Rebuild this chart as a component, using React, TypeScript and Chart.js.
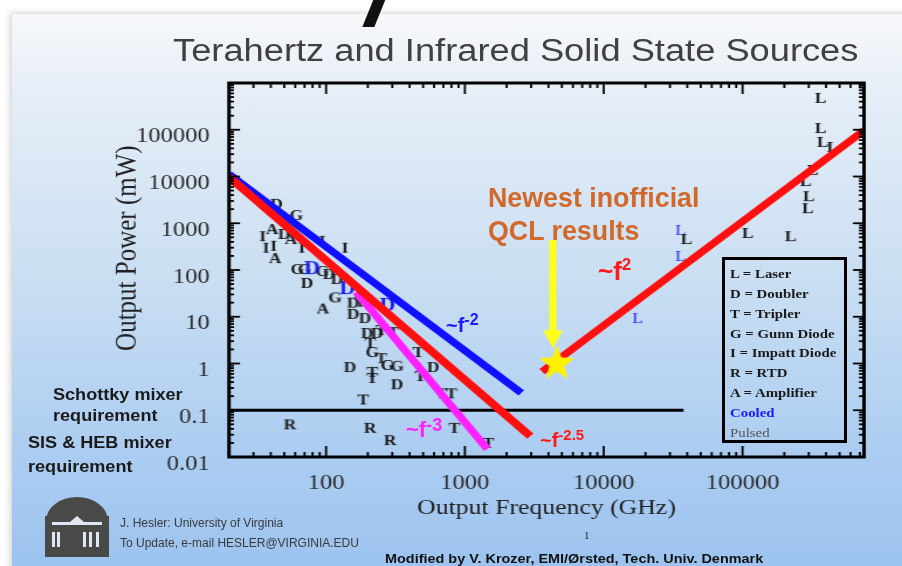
import React, { useEffect, useRef } from "react";
import { Chart, registerables } from "chart.js";

Chart.register(...registerables);

// The original slide is stretched horizontally; the canvas is drawn narrower and stretched back.
const CANVAS_W = 771;
const CANVAS_H = 566;
const STRETCH = 902 / CANVAS_W;

// Axis ranges and tick labels
const xMin = 20;
const xMax = 750000;
const yMin = 0.01;
const yMax = 1000000;
const xTickValues = [100, 1000, 10000, 100000];
const yTickValues = [0.01, 0.1, 1, 10, 100, 1000, 10000, 100000];

// Trend lines: [frequency GHz, power mW]
const trendMinus2 = [[20, 11300], [2550, 0.234]];
const trendMinus25 = [[20, 9750], [2960, 0.0281]];
const trendMinus3 = [[165, 33.8], [1450, 0.0148]];
const trendPlus2 = [[3600, 0.668], [750000, 96400]];
const mixerRequirement = [[20, 0.1], [37600, 0.1]];

// QCL annotation
const qclStar = [[4600, 1.08]];
const qclArrowShaft = [[4300, 439], [4300, 4.72]];
const qclArrowHead = [[4300, 3.34]];

// Device points: [frequency GHz, power mW]
const laserPts = [[365000, 480000], [365000, 109000], [378000, 55000], [446000, 43000], [320000, 13800], [285000, 8000], [300000, 3800], [295000, 2100], [109000, 620], [222000, 530], [39500, 460]];
const laserCooledPts = [[35700, 720], [35700, 200], [17500, 9.4]];
const doublerPts = [[44, 2600], [50, 590], [73, 53], [105, 82], [120, 64], [157, 20], [157, 11.5], [191, 9.4], [198, 4.5], [233, 4.5], [149, 0.84], [592, 0.84], [325, 0.36]];
const doublerCooledPts = [[79, 110], [142, 41], [276, 18]];
const triplerPts = [[176, 21], [250, 5.2], [305, 4.7], [208, 2.75], [250, 1.3], [215, 0.66], [215, 0.49], [461, 1.76], [477, 0.54], [185, 0.17], [800, 0.23], [680, 0.23], [840, 0.042], [1475, 0.02]];
const gunnPts = [[61, 1500], [62, 105], [70, 105], [94, 95], [116, 26], [215, 1.76], [276, 0.93], [325, 0.89]];
const impattPts = [[35, 530], [37, 300], [42, 330], [67, 300], [94, 420], [137, 300]];
const rtdPts = [[55, 0.05], [208, 0.042], [290, 0.023]];
const amplifierPts = [[41, 750], [56, 460], [43, 180], [95, 15]];

const legendLines = ["L = Laser", "D = Doubler", "T = Tripler", "G = Gunn Diode", "I = Impatt Diode", "R = RTD", "A = Amplifier"];

const SERIF = '"Liberation Serif", "Times New Roman", Times, serif';
const SANS = '"Liberation Sans", Arial, Helvetica, sans-serif';

const toXY = (pts: number[][]) => pts.map(([x, y]) => ({ x, y }));

function glyph(ch: string, color: string, size: number, weight: string) {
  const c = document.createElement("canvas");
  let ctx = c.getContext("2d")!;
  const font = `${weight} ${size}px ${SERIF}`;
  ctx.font = font;
  const w = Math.ceil(ctx.measureText(ch).width) + 2;
  const h = Math.ceil(size * 0.9) + 2;
  c.width = w;
  c.height = h;
  ctx = c.getContext("2d")!;
  ctx.font = font;
  ctx.fillStyle = color;
  ctx.textAlign = "center";
  ctx.textBaseline = "alphabetic";
  ctx.fillText(ch, w / 2, h / 2 + size * 0.33);
  return c;
}

function starGlyph(color: string, r: number) {
  const c = document.createElement("canvas");
  const w = Math.ceil((2 * r) / STRETCH) + 2;
  const h = Math.ceil(2 * r) + 2;
  c.width = w;
  c.height = h;
  const ctx = c.getContext("2d")!;
  ctx.translate(w / 2, h / 2 + r * 0.1);
  ctx.scale(1 / STRETCH, 1);
  ctx.beginPath();
  for (let i = 0; i < 10; i++) {
    const rad = i % 2 === 0 ? r : r * 0.42;
    const a = -Math.PI / 2 + (i * Math.PI) / 5;
    ctx.lineTo(rad * Math.cos(a), rad * Math.sin(a));
  }
  ctx.closePath();
  ctx.fillStyle = color;
  ctx.fill();
  return c;
}

function arrowHeadGlyph(color: string) {
  const c = document.createElement("canvas");
  c.width = 18;
  c.height = 19;
  const ctx = c.getContext("2d")!;
  ctx.fillStyle = color;
  ctx.beginPath();
  ctx.moveTo(0.5, 0.5);
  ctx.lineTo(17.5, 0.5);
  ctx.lineTo(9, 18.5);
  ctx.closePath();
  ctx.fill();
  return c;
}

const framePlugin = {
  id: "frameTicks",
  afterDraw(chart: any) {
    const { ctx, chartArea } = chart;
    const { left, right, top, bottom } = chartArea;
    const xs = chart.scales.x;
    const ys = chart.scales.y;
    ctx.save();
    ctx.strokeStyle = "#000";
    ctx.lineWidth = 1.8;
    const seg = (x1: number, y1: number, x2: number, y2: number) => {
      ctx.beginPath();
      ctx.moveTo(x1, y1);
      ctx.lineTo(x2, y2);
      ctx.stroke();
    };
    for (let e = -2; e <= 6; e++) {
      for (let m = 1; m <= 9; m++) {
        const v = m * Math.pow(10, e);
        if (v < yMin * 0.999 || v > yMax * 1.001) continue;
        const py = ys.getPixelForValue(v);
        const len = (m === 1 ? 11 : 5) / STRETCH;
        seg(left, py, left + len, py);
        seg(right, py, right - len, py);
      }
    }
    for (let e = 1; e <= 5; e++) {
      for (let m = 1; m <= 9; m++) {
        const v = m * Math.pow(10, e);
        if (v < xMin * 0.999 || v > xMax * 1.001) continue;
        const px = xs.getPixelForValue(v);
        const len = m === 1 ? 11 : 5;
        seg(px, bottom, px, bottom - len);
        seg(px, top, px, top + len);
      }
    }
    ctx.lineWidth = 3;
    ctx.strokeRect(left, top, right - left, bottom - top);
    ctx.restore();
  },
};

type TP = {
  x: number;
  y: number;
  size: number;
  color?: string;
  weight?: string | number;
  family?: string;
  sx?: number;
  children: React.ReactNode;
};

function Txt({ x, y, size, color = "#222", weight = "normal", family = SANS, sx = 1, children }: TP) {
  return (
    <div
      style={{
        position: "absolute",
        left: x,
        top: y - size / 2,
        fontSize: size,
        lineHeight: `${size}px`,
        fontFamily: family,
        fontWeight: weight as any,
        color,
        whiteSpace: "nowrap",
        transform: sx !== 1 ? `scaleX(${sx})` : undefined,
        transformOrigin: "0 50%",
      }}
    >
      {children}
    </div>
  );
}

const sup = (t: string, size: number, raise: number) => (
  <span style={{ fontSize: size, position: "relative", top: -raise }}>{t}</span>
);

export default function App() {
  const ref = useRef<HTMLCanvasElement | null>(null);

  useEffect(() => {
    if (!ref.current) return;
    const black = "#1a1a1a";
    const blue = "#1c1cf0";
    const line = (pts: number[][], color: string, width: number) => ({
      data: toXY(pts),
      showLine: true,
      borderColor: color,
      backgroundColor: color,
      borderWidth: width,
      pointRadius: 0,
      fill: false,
      tension: 0,
    });
    const marks = (pts: number[][], style: any) => ({
      data: toXY(pts),
      showLine: false,
      pointStyle: style,
      pointRadius: 6,
      pointHoverRadius: 6,
    });

    const datasets: any[] = [
      marks(qclStar, starGlyph("#fff200", 18.5)),
      marks(qclArrowHead, arrowHeadGlyph("#ffff1a")),
      line(qclArrowShaft, "#ffff1a", 6),
      line(trendPlus2, "#ff1010", 7),
      line(trendMinus25, "#ff1010", 7.5),
      line(trendMinus3, "#ff22ff", 7),
      line(trendMinus2, "#1010ff", 7),
      line(mixerRequirement, "#000", 3),
      marks(laserPts, glyph("L", black, 15, "bold")),
      marks(laserCooledPts, glyph("L", blue, 15, "normal")),
      marks(doublerPts, glyph("D", black, 15, "bold")),
      marks(doublerCooledPts, glyph("D", blue, 19, "bold")),
      marks(triplerPts, glyph("T", black, 15, "bold")),
      marks(gunnPts, glyph("G", black, 15, "bold")),
      marks(impattPts, glyph("I", black, 15, "bold")),
      marks(rtdPts, glyph("R", black, 15, "bold")),
      marks(amplifierPts, glyph("A", black, 15, "bold")),
    ];

    const tickFont = { family: SERIF, size: 21 };

    const chart = new Chart(ref.current, {
      type: "scatter",
      data: { datasets },
      options: {
        animation: false,
        responsive: true,
        maintainAspectRatio: false,
        events: [],
        layout: {
          padding: { left: 90, top: 83, right: CANVAS_W - 864 / STRETCH, bottom: 40 },
        },
        plugins: {
          legend: { display: false },
          tooltip: { enabled: false },
          title: { display: false },
        },
        scales: {
          x: {
            type: "logarithmic",
            min: xMin,
            max: xMax,
            grid: { display: false },
            border: { display: false },
            afterBuildTicks: (s: any) => {
              s.ticks = xTickValues.map((v) => ({ value: v }));
            },
            afterFit: (s: any) => {
              s.height = 69;
            },
            ticks: {
              autoSkip: false,
              maxRotation: 0,
              padding: 5.5,
              color: "#2b2b2b",
              font: tickFont,
              callback: (v: any) => String(v),
            },
            title: {
              display: true,
              text: "Output Frequency (GHz)",
              color: "#222",
              font: { family: SERIF, size: 22 },
              padding: { top: 0, bottom: 4.8 },
            },
          },
          y: {
            type: "logarithmic",
            min: yMin,
            max: yMax,
            grid: { display: false },
            border: { display: false },
            afterBuildTicks: (s: any) => {
              s.ticks = yTickValues.map((v) => ({ value: v }));
            },
            afterFit: (s: any) => {
              s.width = 229 / STRETCH - 90;
            },
            ticks: {
              autoSkip: false,
              padding: 229 / STRETCH - 219 / STRETCH,
              labelOffset: 7,
              color: "#2b2b2b",
              font: tickFont,
              callback: (v: any) => String(v),
            },
            title: {
              display: true,
              text: "\u00A0\u00A0\u00A0\u00A0\u00A0\u00A0\u00A0Output Power (mW)",
              color: "#222",
              font: { family: SERIF, size: 25 },
              padding: { top: 4, bottom: 0 },
            },
          },
        },
      } as any,
      plugins: [framePlugin],
    });
    return () => chart.destroy();
  }, []);

  const logo = "#494947";

  return (
    <div style={{ position: "fixed", left: 0, top: 0, width: 902, height: 566, overflow: "hidden", background: "#fff" }}>
      {/* slide background */}
      <div
        style={{
          position: "absolute",
          left: 12,
          top: 14,
          width: 900,
          height: 560,
          background: "linear-gradient(180deg, #f7f8fa 0%, #e6eef7 14%, #c9def2 48%, #accdf1 78%, #9bc3ef 100%)",
          boxShadow: "-2px -1px 6px rgba(0,0,0,0.18)",
        }}
      />
      <div
        style={{ position: "absolute", left: 369, top: -6, width: 12, height: 33, background: "#111", transform: "skewX(-22deg)" }}
      />

      {/* chart canvas, stretched like the original slide */}
      <div
        style={{
          position: "absolute",
          left: 0,
          top: 0,
          width: CANVAS_W,
          height: CANVAS_H,
          transform: `scaleX(${STRETCH})`,
          transformOrigin: "0 0",
        }}
      >
        <canvas ref={ref} />
      </div>

      {/* title */}
      <Txt x={173} y={50} size={31} color="#404040" sx={STRETCH}>
        Terahertz and Infrared Solid State Sources
      </Txt>

      {/* annotations */}
      <Txt x={488} y={198} size={26.8} weight="bold" color="#d2692a">Newest inofficial</Txt>
      <Txt x={488} y={231} size={26.8} weight="bold" color="#d2692a">QCL results</Txt>
      <Txt x={598} y={271} size={26} weight="bold" color="#ff1a1a">~f{sup("2", 17, 10)}</Txt>
      <Txt x={446} y={325} size={20} weight="bold" color="#1a1aff">~f{sup("-2", 16, 7)}</Txt>
      <Txt x={406} y={430} size={22} weight="bold" color="#ff22ff">~f{sup("-3", 18, 6)}</Txt>
      <Txt x={540} y={440} size={20} weight="bold" color="#ff1a1a">~f{sup("-2.5", 15, 7)}</Txt>

      {/* mixer requirement labels */}
      <Txt x={53} y={395} size={16} weight="bold" color="#1a1a1a" sx={1.13}>Schottky mixer</Txt>
      <Txt x={53} y={416} size={16} weight="bold" color="#1a1a1a" sx={1.13}>requirement</Txt>
      <Txt x={28} y={443} size={16} weight="bold" color="#1a1a1a" sx={1.13}>SIS &amp; HEB mixer</Txt>
      <Txt x={28} y={467} size={16} weight="bold" color="#1a1a1a" sx={1.13}>requirement</Txt>

      {/* legend box */}
      <div
        style={{ position: "absolute", left: 722, top: 257, width: 125, height: 186, border: "3px solid #000", boxSizing: "border-box" }}
      />
      {legendLines.map((t, i) => (
        <Txt key={t} x={730} y={274 + i * 19.8} size={13.5} weight="bold" family={SERIF} color="#1a1a1a" sx={1.1}>
          {t}
        </Txt>
      ))}
      <Txt x={730} y={274 + 7 * 19.8} size={13.5} weight="bold" family={SERIF} color="#1a1aff" sx={1.1}>Cooled</Txt>
      <Txt x={730} y={274 + 8 * 19.8} size={13.5} family={SERIF} color="#555" sx={1.1}>Pulsed</Txt>

      {/* footer */}
      <div style={{ position: "absolute", left: 46, top: 497, width: 62, height: 24, background: logo, borderRadius: "50% 50% 0 0 / 100% 100% 0 0" }} />
      <div style={{ position: "absolute", left: 45, top: 516, width: 64, height: 41, background: logo }} />
      <div style={{ position: "absolute", left: 52, top: 522, width: 50, height: 3, background: "#dfe8f2" }} />
      <div style={{ position: "absolute", left: 70, top: 516, width: 0, height: 0, borderLeft: "7px solid transparent", borderRight: "7px solid transparent", borderBottom: "6px solid #dfe8f2" }} />
      {[52, 57, 83, 89, 96].map((x) => (
        <div key={x} style={{ position: "absolute", left: x, top: 532, width: 3, height: 15, background: "#dfe8f2" }} />
      ))}
      <Txt x={120} y={523} size={12} color="#3a3a3a">J. Hesler: University of Virginia</Txt>
      <Txt x={120} y={543} size={12} color="#3a3a3a">To Update, e-mail HESLER@VIRGINIA.EDU</Txt>
      <Txt x={584} y={535} size={11} family={SERIF} color="#222">1</Txt>
      <Txt x={385} y={558} size={13} weight="bold" color="#111" sx={1.11}>Modified by V. Krozer, EMI/Ørsted, Tech. Univ. Denmark</Txt>
    </div>
  );
}
